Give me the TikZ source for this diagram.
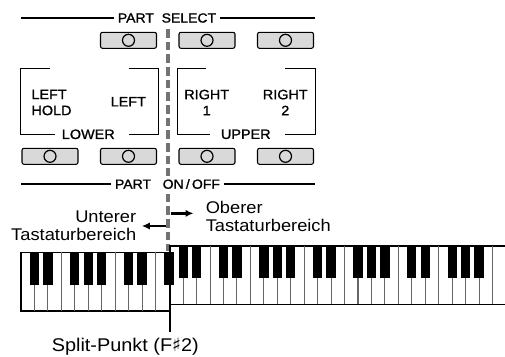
\documentclass[tikz,border=0pt]{standalone}
\usepackage{fontspec}
\setmainfont[FakeStretch=1.08]{Liberation Sans}
\newfontfamily\panelfont[FakeStretch=1.06, FakeBold=1.2]{Liberation Sans}
\newfontfamily\sharpfont{DejaVu Sans}
\usetikzlibrary{arrows.meta, positioning, calc}

\begin{document}
\begin{tikzpicture}[
    x=0.75pt, y=-0.75pt,
    panellabel/.style={font=\panelfont\fontsize{10.2}{12}\selectfont, align=center, inner sep=0pt},
    titlelabel/.style={font=\panelfont\fontsize{9.9}{12}\selectfont, fill=white, inner sep=2.5pt},
    rangelabel/.style={font=\fontsize{12.7}{13.5}\selectfont, inner sep=0pt},
    btn/.style={rectangle, draw=black, line width=0.8pt, fill=gray!30, rounded corners=1.5pt, minimum width=42pt, minimum height=12pt},
    bracket/.style={line width=0.9pt},
    splitdash/.style={draw=black!55, line width=2.6pt, dash pattern=on 6.5pt off 3pt},
    keyline/.style={draw=black!60, line width=0.8pt},
    kbframe/.style={draw=black, line width=1.2pt},
    arrow/.style={-{Latex[length=6pt, width=5.5pt]}, line width=1.8pt}
]
    \useasboundingbox (0,0) rectangle (505,356);

    % Split marker through the panel
    \coordinate (dashtop) at (168,29);
    \coordinate (dashbot) at (168,251);
    \draw[splitdash] (dashtop) -- (dashbot);

    % PART SELECT row
    \node (sel) [titlelabel] at (167,18) {PART\ \ SELECT};
    \draw[bracket] (21,18) -- (sel.west);
    \draw[bracket] (sel.east) -- (315,18);
    \foreach \n/\x in {sel2/128.5, sel3/207, sel4/285.5} {
        \node (\n) [btn] at (\x,40.3) {};
        \draw[bracket] (\n.center) circle[radius=4.5pt];
    }

    % LOWER frame
    \draw[bracket] (50,68.3) -- (20.5,68.3) -- (20.5,134.3) -- (55,134.3);
    \draw[bracket] (128.5,68.3) -- (158.3,68.3) -- (158.3,134.3) -- (128.5,134.3);
    \node (lower) [panellabel] at (88.3,134.3) {LOWER};
    \node (lhold) [panellabel, align=left] at (51.5,102.5) {LEFT\\HOLD};
    \node (left) [panellabel] at (128.3,101.7) {LEFT};

    % UPPER frame
    \draw[bracket] (206,68.3) -- (177.3,68.3) -- (177.3,134.3) -- (210,134.3);
    \draw[bracket] (285,68.3) -- (315.5,68.3) -- (315.5,134.3) -- (285,134.3);
    \node (upper) [panellabel] at (245.8,134.3) {UPPER};
    \node (right1) [panellabel] at (206.7,102.5) {RIGHT\\1};
    \node (right2) [panellabel] at (285.3,102.5) {RIGHT\\2};

    % PART ON/OFF row
    \foreach \n/\x in {on1/50, on2/128.5, on3/207, on4/285.5} {
        \node (\n) [btn] at (\x,156.3) {};
        \draw[bracket] (\n.center) circle[radius=4.5pt];
    }
    \node (onoff) [titlelabel] at (167.5,184) {PART\ \ \ ON\,/\,OFF};
    \draw[bracket] (21,184) -- (onoff.west);
    \draw[bracket] (onoff.east) -- (315,184);

    % Range labels and arrows
    \node (unter) [rangelabel, align=right, anchor=east] at (136.5,226) {Unterer\\Tastaturbereich};
    \node (ober) [rangelabel, align=left, anchor=west] at (205.5,216.7) {Oberer\\Tastaturbereich};
    \draw[arrow] ([xshift=-1.5pt]unter.east -| dashbot) -- ([xshift=4pt]unter.east);
    \draw[arrow] ([xshift=2.5pt, yshift=2.5pt]ober.west -| dashbot) -- ([xshift=-9pt, yshift=2.5pt]ober.west);

    % Lower range keys (C to F)
    \coordinate (lowSE) at (169.7,310.7);
    \draw[kbframe] (21,252.3) rectangle (lowSE);
    \foreach \i in {1,...,10} \draw[keyline] ({21+13.45*\i},252.3) -- ++(0,58.4);

    % Upper range keys (G onward)
    \draw[kbframe] (506,245.7) -- (169.7,245.7) -- (169.7,304.3) -- (506,304.3);
    \foreach \i in {1,...,24} \draw[keyline] ({169.7+13.45*\i},245.7) -- ++(0,58.6);
    \foreach \i in {1,2,4,5,7,8,9,11,12,14,15,16,18,19,21,22,23}
        \fill ({169.7+13.45*\i-4.65},245.7) rectangle ++(9.3,32);
    \foreach \i in {1,2,4,5,6,8,9,11}
        \fill ({21+13.45*\i-4.65},252.3) rectangle ++(9.3,33);

    % Split point
    \coordinate (splitend) at (169.7,331.7);
    \draw[kbframe] (lowSE) -- (splitend);
    \node (splitpt) [rangelabel, font=\fontsize{13.8}{14}\selectfont] at (125.3,347) {Split-Punkt (F{\sharpfont ♯}2)};
\end{tikzpicture}
\end{document}
